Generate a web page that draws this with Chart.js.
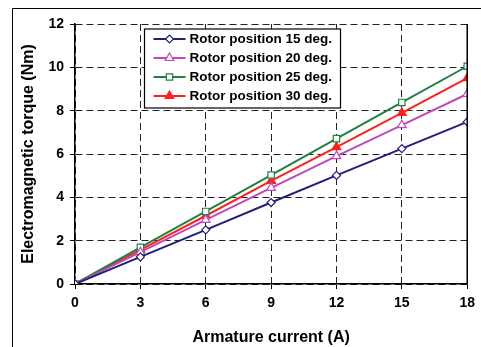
<!DOCTYPE html>
<html>
<head>
<meta charset="utf-8">
<script src="https://cdn.jsdelivr.net/npm/chart.js@4"></script>
<style>
  html, body { margin: 0; padding: 0; background: #fff; }
  #wrap { width: 481px; height: 347px; }
</style>
</head>
<body>
<div id="wrap"><canvas id="torque" width="481" height="347"></canvas></div>
<script>
// Armature current (A)
const currents = [0, 3, 6, 9, 12, 15, 18];
const labels = ['Rotor position 15 deg.', 'Rotor position 20 deg.', 'Rotor position 25 deg.', 'Rotor position 30 deg.'];
// Electromagnetic torque (Nm) per rotor position
const torque15 = [0, 1.25, 2.5, 3.76, 5.01, 6.25, 7.48];
const torque20 = [0, 1.47, 2.96, 4.44, 5.9, 7.33, 8.77];
const torque25 = [0, 1.69, 3.35, 5.03, 6.71, 8.38, 10.05];
const torque30 = [0, 1.57, 3.15, 4.76, 6.32, 7.9, 9.5];
const yTicks = [0, 2, 4, 6, 8, 10, 12];

const COLORS = ['#20207a', '#c048be', '#208040', '#ff2020'];
const STYLES = [
  { pointStyle: 'rectRot', fill: '#fff', radius: 4 },
  { pointStyle: 'triangle', fill: '#fff', radius: 5 },
  { pointStyle: 'rect', fill: '#fff', radius: 4.5 },
  { pointStyle: 'triangle', fill: '#ff2020', radius: 5 }
];

const FONT = 'Arial, "Liberation Sans", sans-serif';

function makeSet(i, values) {
  return {
    label: labels[i],
    data: currents.map((c, k) => ({ x: c, y: values[k] })),
    borderColor: COLORS[i],
    backgroundColor: STYLES[i].fill,
    pointStyle: STYLES[i].pointStyle,
    pointRadius: STYLES[i].radius,
    pointBorderWidth: 1.2,
    pointBorderColor: COLORS[i],
    pointBackgroundColor: STYLES[i].fill,
    borderWidth: 2,
    tension: 0
  };
}

// white page + outer frame, right plot edge and the boxed legend
const framePlugin = {
  id: 'frame',
  beforeDraw(chart) {
    const ctx = chart.ctx;
    ctx.save();
    ctx.fillStyle = '#fff';
    ctx.fillRect(0, 0, chart.width, chart.height);
    ctx.strokeStyle = '#000';
    ctx.lineWidth = 1;
    ctx.beginPath();
    ctx.moveTo(12.5, chart.height + 5);
    ctx.lineTo(12.5, 8.5);
    ctx.lineTo(chart.width + 5, 8.5);
    ctx.stroke();
    ctx.restore();
  },
  afterDatasetsDraw(chart) {
    const ctx = chart.ctx;
    const area = chart.chartArea;
    ctx.save();
    ctx.strokeStyle = '#000';
    ctx.lineWidth = 1.5;
    ctx.beginPath();
    ctx.moveTo(area.right, area.top);
    ctx.lineTo(area.right, area.bottom);
    ctx.stroke();

    // legend box
    const x = 144.5;
    const y = area.top + 5;
    const w = 196, h = 79;
    ctx.fillStyle = '#fff';
    ctx.fillRect(x, y, w, h);
    ctx.lineWidth = 1.2;
    ctx.strokeRect(x, y, w, h);
    chart.data.datasets.forEach((ds, i) => {
      const ly = y + 10 + i * 19;
      ctx.strokeStyle = ds.borderColor;
      ctx.lineWidth = 2;
      ctx.beginPath();
      ctx.moveTo(x + 9, ly);
      ctx.lineTo(x + 41, ly);
      ctx.stroke();
      ctx.fillStyle = ds.pointBackgroundColor;
      ctx.strokeStyle = ds.pointBorderColor;
      ctx.lineWidth = 1.2;
      Chart.helpers.drawPoint(ctx, {
        pointStyle: ds.pointStyle,
        radius: ds.pointRadius,
        borderWidth: 1.2,
        rotation: 0
      }, x + 25, ly);
      ctx.fillStyle = '#000';
      ctx.font = 'bold 13.5px ' + FONT;
      ctx.textBaseline = 'middle';
      ctx.textAlign = 'left';
      ctx.fillText(ds.label, x + 45, ly + 0.5);
    });
    ctx.restore();
  }
};

new Chart(document.getElementById('torque'), {
  type: 'line',
  data: {
    datasets: [
      makeSet(0, torque15),
      makeSet(1, torque20),
      makeSet(2, torque25),
      makeSet(3, torque30)
    ]
  },
  plugins: [framePlugin],
  options: {
    responsive: false,
    animation: false,
    layout: { padding: { top: 24, right: 8, left: 0, bottom: 0 } },
    plugins: {
      legend: { display: false },
      tooltip: { enabled: false }
    },
    scales: {
      x: {
        type: 'linear',
        min: 0,
        max: 18,
        afterBuildTicks: (scale) => { scale.ticks = currents.map(v => ({ value: v })); },
        afterFit: (scale) => { scale.height = 63; },
        grid: {
          color: '#222',
          lineWidth: 1,
          tickLength: 5,
          tickColor: '#000',
          tickBorderDash: []
        },
        border: { display: true, color: '#000', width: 1.5, dash: [7, 4] },
        ticks: {
          color: '#000',
          padding: 6,
          font: { family: FONT, weight: 'bold', size: 14 }
        },
        title: {
          display: true,
          text: 'Armature current (A)',
          color: '#000',
          padding: { top: 4, bottom: 0 },
          font: { family: FONT, weight: 'bold', size: 16 }
        }
      },
      y: {
        type: 'linear',
        min: 0,
        max: 12,
        afterBuildTicks: (scale) => { scale.ticks = yTicks.map(v => ({ value: v })); },
        afterFit: (scale) => { scale.width = 75; },
        grid: {
          color: '#222',
          lineWidth: 1,
          tickLength: 5,
          tickColor: '#000',
          tickBorderDash: []
        },
        border: { display: true, color: '#000', width: 1.5, dash: [7, 4] },
        ticks: {
          color: '#000',
          padding: 6,
          font: { family: FONT, weight: 'bold', size: 14 }
        },
        title: {
          display: true,
          text: 'Electromagnetic torque (Nm)',
          color: '#000',
          padding: { top: 19, bottom: 0 },
          font: { family: FONT, weight: 'bold', size: 16 }
        }
      }
    }
  }
});
</script>
</body>
</html>
